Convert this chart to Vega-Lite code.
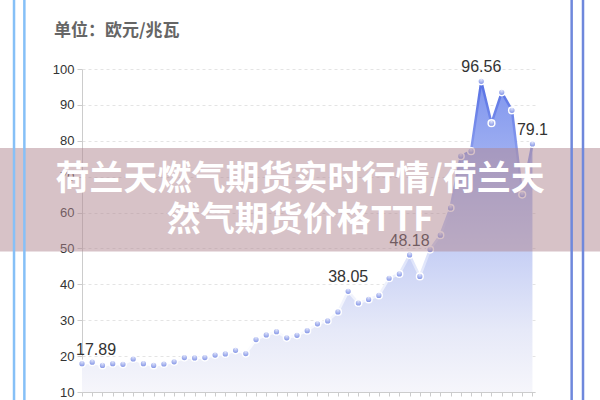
{
  "$schema": "https://vega.github.io/schema/vega-lite/v6.json",
  "width": 453,
  "height": 323,
  "autosize": "none",
  "padding": {"left": 82, "top": 69, "right": 65, "bottom": 8},
  "background": "white",
  "config": {
    "view": {"stroke": null},
    "font": "Liberation Sans",
    "axisX": {
      "tickCount": 44,
      "grid": false,
      "labels": false,
      "domainColor": "#cccccc",
      "tickColor": "#cccccc",
      "tickSize": 4
    },
    "axisY": {
      "tickCount": 9,
      "grid": true,
      "gridDash": [3, 3],
      "gridColor": "#e4e4e4",
      "domainColor": "#cccccc",
      "tickColor": "#cccccc",
      "tickSize": 5,
      "labelColor": "#333333",
      "labelFontSize": 13,
      "labelPadding": 3,
      "labelFont": "Liberation Sans",
      "labelOverlap": false
    }
  },
  "datasets": {
    "gas": [
      {"i": 0, "v": 17.89}, {"i": 1, "v": 18.3}, {"i": 2, "v": 17.4}, {"i": 3, "v": 17.9},
      {"i": 4, "v": 17.7}, {"i": 5, "v": 19.2}, {"i": 6, "v": 17.9}, {"i": 7, "v": 17.4},
      {"i": 8, "v": 17.8}, {"i": 9, "v": 18.4}, {"i": 10, "v": 19.6}, {"i": 11, "v": 19.5},
      {"i": 12, "v": 19.6}, {"i": 13, "v": 20.3}, {"i": 14, "v": 20.6}, {"i": 15, "v": 21.6},
      {"i": 16, "v": 20.7}, {"i": 17, "v": 24.6}, {"i": 18, "v": 25.9}, {"i": 19, "v": 26.8},
      {"i": 20, "v": 25.1}, {"i": 21, "v": 25.8}, {"i": 22, "v": 27.1}, {"i": 23, "v": 29.0},
      {"i": 24, "v": 29.8}, {"i": 25, "v": 32.3}, {"i": 26, "v": 38.05}, {"i": 27, "v": 34.8},
      {"i": 28, "v": 35.8}, {"i": 29, "v": 36.9}, {"i": 30, "v": 41.7}, {"i": 31, "v": 42.9},
      {"i": 32, "v": 48.18}, {"i": 33, "v": 42.2}, {"i": 34, "v": 49.7}, {"i": 35, "v": 53.7},
      {"i": 36, "v": 61.3}, {"i": 37, "v": 75.7}, {"i": 38, "v": 77.1}, {"i": 39, "v": 96.56},
      {"i": 40, "v": 84.9}, {"i": 41, "v": 93.5}, {"i": 42, "v": 88.5}, {"i": 43, "v": 65.0},
      {"i": 44, "v": 79.1}
    ],
    "texts": [
      {"unit": "单位：欧元/兆瓦", "line1": "荷兰天燃气期货实时行情/荷兰天", "line2": "然气期货价格TTF"}
    ]
  },
  "layer": [
    {
      "data": {"name": "gas"},
      "mark": {
        "type": "area",
        "fill": {
          "gradient": "linear", "x1": 0, "y1": 1, "x2": 0, "y2": 0,
          "stops": [
            {"offset": 0, "color": "#f6f6fb"},
            {"offset": 0.2, "color": "#e6e9f8"},
            {"offset": 0.45, "color": "#c7d0f5"},
            {"offset": 1, "color": "#7f95ee"}
          ]
        }
      },
      "encoding": {
        "x": {"field": "i", "type": "quantitative", "title": null, "scale": {"domain": [0, 44.25], "nice": false, "zero": false}},
        "y": {"field": "v", "type": "quantitative", "title": null, "scale": {"domain": [10, 100], "nice": false, "zero": false}},
        "y2": {"datum": 10}
      }
    },
    {
      "data": {"name": "gas"},
      "mark": {
        "type": "line",
        "strokeWidth": 2.5,
        "stroke": {
          "gradient": "linear", "x1": 0, "y1": 1, "x2": 0, "y2": 0,
          "stops": [
            {"offset": 0, "color": "#ffffff"},
            {"offset": 0.3, "color": "#eef1fc"},
            {"offset": 0.6, "color": "#a9b7f4"},
            {"offset": 1, "color": "#5670e4"}
          ]
        }
      },
      "encoding": {
        "x": {"field": "i", "type": "quantitative", "title": null},
        "y": {"field": "v", "type": "quantitative", "title": null}
      }
    },
    {
      "data": {"name": "gas"},
      "mark": {
        "type": "circle",
        "size": 45,
        "opacity": 1,
        "fill": {
          "gradient": "radial", "x1": 0.5, "y1": 0.2, "r1": 0, "x2": 0.5, "y2": 0.4, "r2": 0.7,
          "stops": [
            {"offset": 0, "color": "#e3e7fc"},
            {"offset": 1, "color": "#6a7fe0"}
          ]
        },
        "stroke": "white",
        "strokeWidth": 1.5
      },
      "encoding": {
        "x": {"field": "i", "type": "quantitative", "title": null},
        "y": {"field": "v", "type": "quantitative", "title": null}
      }
    },
    {
      "data": {"name": "gas"},
      "transform": [{"filter": "datum.i == 0"}],
      "mark": {"type": "text", "align": "left", "baseline": "alphabetic", "dx": -6, "dy": -9, "fontSize": 16, "color": "#333333", "font": "Liberation Sans"},
      "encoding": {
        "x": {"field": "i", "type": "quantitative", "title": null},
        "y": {"field": "v", "type": "quantitative", "title": null},
        "text": {"field": "v", "type": "quantitative"}
      }
    },
    {
      "data": {"name": "gas"},
      "transform": [{"filter": {"field": "i", "oneOf": [26, 32, 39, 44]}}],
      "mark": {"type": "text", "align": "center", "baseline": "alphabetic", "dy": -9, "fontSize": 16, "color": "#333333", "font": "Liberation Sans"},
      "encoding": {
        "x": {"field": "i", "type": "quantitative", "title": null},
        "y": {"field": "v", "type": "quantitative", "title": null},
        "text": {"field": "v", "type": "quantitative"}
      }
    },
    {
      "data": {"name": "texts"},
      "mark": {"type": "text", "align": "left", "baseline": "alphabetic", "fontSize": 17, "fontWeight": "bold", "color": "#666666", "font": "Noto Sans CJK SC", "clip": false},
      "encoding": {"x": {"datum": -2.735, "title": null}, "y": {"datum": 109.3, "title": null}, "text": {"field": "unit"}}
    },
    {
      "data": {"name": "texts"},
      "mark": {"type": "rect", "fill": "#b08590", "opacity": 0.5, "clip": false},
      "encoding": {
        "x": {"datum": -9, "title": null}, "x2": {"datum": 52},
        "y": {"datum": 77.99, "title": null}, "y2": {"datum": 49.15}
      }
    },
    {
      "data": {"name": "texts"},
      "mark": {
        "type": "text",
        "font": "Noto Sans CJK SC",
        "fontSize": 34,
        "fontWeight": "bold",
        "color": "white",
        "align": "center",
        "baseline": "middle",
        "clip": false
      },
      "encoding": {"x": {"datum": 21.3, "title": null}, "y": {"datum": 69.0, "title": null}, "text": {"field": "line1"}}
    },
    {
      "data": {"name": "texts"},
      "mark": {
        "type": "text",
        "font": "Noto Sans CJK SC",
        "fontSize": 34,
        "fontWeight": "bold",
        "color": "white",
        "align": "center",
        "baseline": "middle",
        "clip": false
      },
      "encoding": {"x": {"datum": 21.3, "title": null}, "y": {"datum": 57.6, "title": null}, "text": {"field": "line2"}}
    },
    {
      "data": {"name": "texts"},
      "mark": {"type": "rule", "color": "#86c0f7", "strokeWidth": 2.5, "clip": false},
      "encoding": {"x": {"datum": -6.64, "title": null}, "y": {"datum": 119.3, "title": null}, "y2": {"datum": 5}}
    },
    {
      "data": {"name": "texts"},
      "mark": {"type": "rule", "color": "#86c0f7", "strokeWidth": 2.5, "clip": false},
      "encoding": {"x": {"datum": -5.63, "title": null}, "y": {"datum": 119.3, "title": null}, "y2": {"datum": 5}}
    },
    {
      "data": {"name": "texts"},
      "mark": {"type": "rule", "color": "#6f88dc", "strokeWidth": 2.5, "clip": false},
      "encoding": {"x": {"datum": 47.83, "title": null}, "y": {"datum": 119.3, "title": null}, "y2": {"datum": 5}}
    },
    {
      "data": {"name": "texts"},
      "mark": {"type": "rule", "color": "#6f88dc", "strokeWidth": 2.5, "clip": false},
      "encoding": {"x": {"datum": 48.94, "title": null}, "y": {"datum": 119.3, "title": null}, "y2": {"datum": 5}}
    }
  ]
}
